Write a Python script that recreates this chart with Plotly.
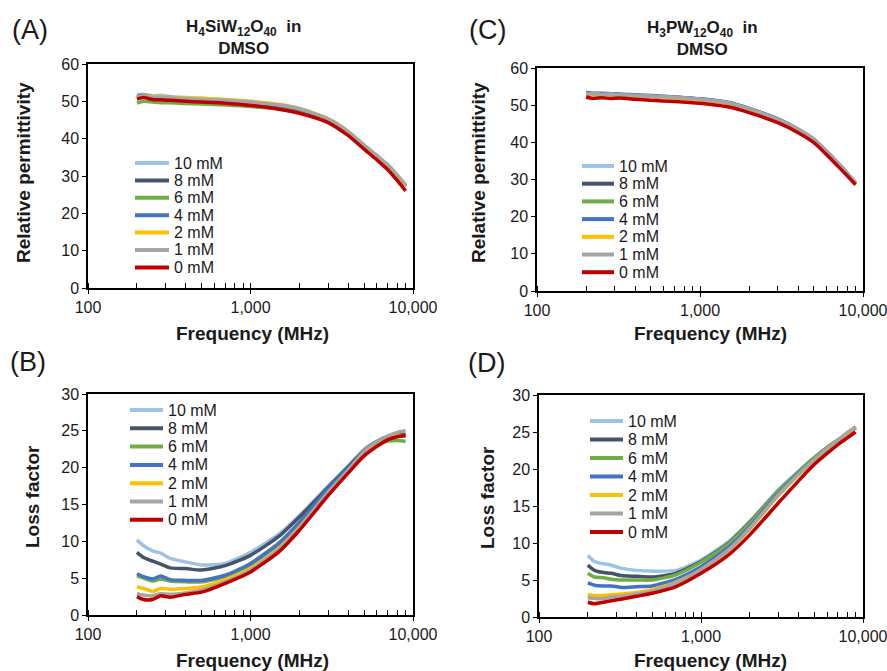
import plotly.graph_objects as go

FREQ = [200, 220, 250, 280, 320, 400, 500, 700, 1000, 1500, 2000, 3000, 4000, 5000, 6000, 7000, 8000, 9000]
SERIES = ["10 mM", "8 mM", "6 mM", "4 mM", "2 mM", "1 mM", "0 mM"]
COLORS = ["#9DC3E6", "#44546A", "#70AD47", "#4472C4", "#FFC000", "#A5A5A5", "#C00000"]

# Panel A: H4SiW12O40 in DMSO, relative permittivity
A_10 = [51.9, 51.8, 51.5, 51.6, 51.3, 51.0, 50.8, 50.4, 49.9, 49.0, 47.9, 45.2, 41.8, 38.2, 35.4, 32.8, 30.1, 27.4]
A_8 = [51.0, 51.4, 51.0, 51.0, 50.8, 50.6, 50.4, 50.1, 49.6, 48.8, 47.7, 45.0, 41.6, 38.0, 35.3, 32.7, 30.0, 27.3]
A_6 = [49.5, 50.0, 49.8, 49.6, 49.6, 49.4, 49.3, 49.0, 48.6, 47.9, 47.0, 44.6, 41.4, 37.9, 35.2, 32.7, 30.0, 27.3]
A_4 = [51.3, 51.6, 51.2, 51.0, 51.0, 50.7, 50.5, 50.2, 49.7, 48.8, 47.7, 45.0, 41.6, 38.0, 35.2, 32.6, 29.9, 27.2]
A_2 = [51.0, 51.4, 51.2, 51.2, 51.0, 50.9, 50.8, 50.5, 50.0, 49.2, 48.1, 45.4, 41.9, 38.2, 35.3, 32.8, 30.0, 27.2]
A_1 = [51.2, 51.3, 51.0, 51.1, 50.9, 50.7, 50.5, 50.3, 49.8, 49.0, 48.0, 45.3, 41.9, 38.3, 35.5, 33.0, 30.3, 27.6]
A_0 = [50.6, 51.0, 50.5, 50.4, 50.3, 50.0, 49.8, 49.5, 48.9, 47.9, 46.8, 44.3, 40.8, 37.2, 34.3, 31.7, 28.8, 26.0]

# Panel B: H4SiW12O40 in DMSO, loss factor
B_10 = [10.2, 9.4, 8.7, 8.4, 7.7, 7.2, 6.8, 7.0, 8.5, 11.0, 13.5, 17.5, 20.3, 22.5, 23.6, 24.3, 24.6, 24.7]
B_8 = [8.5, 7.8, 7.3, 6.9, 6.4, 6.3, 6.1, 6.7, 8.1, 10.7, 13.3, 17.3, 20.1, 22.3, 23.5, 24.2, 24.5, 24.5]
B_6 = [5.3, 5.0, 4.6, 4.9, 4.6, 4.5, 4.5, 5.2, 6.75, 9.6, 12.4, 16.9, 19.7, 21.8, 23.0, 23.6, 23.7, 23.6]
B_4 = [5.6, 5.2, 4.9, 5.3, 4.8, 4.7, 4.7, 5.4, 7.0, 9.8, 12.6, 17.1, 19.9, 22.0, 23.3, 24.0, 24.3, 24.3]
B_2 = [3.8, 3.6, 3.2, 3.6, 3.5, 3.6, 3.8, 4.8, 6.3, 9.1, 11.9, 16.6, 19.6, 21.9, 23.2, 24.0, 24.3, 24.4]
B_1 = [2.9, 2.7, 2.6, 2.9, 2.8, 3.0, 3.4, 4.5, 6.1, 9.0, 11.8, 16.6, 19.7, 22.2, 23.5, 24.3, 24.8, 25.0]
B_0 = [2.5, 2.1, 2.1, 2.6, 2.4, 2.8, 3.1, 4.3, 5.85, 8.6, 11.5, 16.2, 19.3, 21.6, 22.9, 23.8, 24.2, 24.4]

# Panel C: H3PW12O40 in DMSO, relative permittivity
C_10 = [53.3, 53.2, 53.1, 53.1, 52.9, 52.7, 52.5, 52.2, 51.7, 50.7, 49.1, 46.3, 43.5, 40.8, 37.5, 34.5, 31.7, 29.1]
C_8 = [53.2, 53.1, 53.0, 53.0, 52.8, 52.6, 52.4, 52.1, 51.6, 50.6, 49.0, 46.2, 43.4, 40.7, 37.4, 34.4, 31.6, 29.0]
C_6 = [53.0, 52.9, 52.9, 52.8, 52.7, 52.5, 52.3, 52.0, 51.5, 50.5, 48.9, 46.1, 43.4, 40.7, 37.4, 34.4, 31.6, 29.0]
C_4 = [53.4, 53.2, 53.2, 53.1, 53.0, 52.8, 52.6, 52.2, 51.7, 50.7, 49.1, 46.3, 43.5, 40.8, 37.5, 34.4, 31.6, 29.0]
C_2 = [52.9, 53.0, 52.8, 52.8, 52.7, 52.5, 52.3, 52.0, 51.5, 50.5, 48.9, 46.1, 43.4, 40.6, 37.3, 34.3, 31.5, 29.0]
C_1 = [53.0, 53.1, 52.9, 53.0, 52.8, 52.6, 52.4, 52.1, 51.6, 50.6, 49.0, 46.2, 43.5, 40.8, 37.5, 34.5, 31.7, 29.1]
C_0 = [52.2, 51.8, 52.0, 51.8, 51.9, 51.6, 51.3, 51.0, 50.5, 49.5, 48.0, 45.3, 42.6, 39.9, 36.6, 33.6, 31.0, 28.6]

# Panel D: H3PW12O40 in DMSO, loss factor
D_10 = [8.3, 7.5, 7.2, 7.0, 6.6, 6.3, 6.2, 6.3, 7.7, 10.3, 12.9, 17.2, 19.7, 21.5, 22.9, 23.9, 24.9, 25.7]
D_8 = [7.0, 6.3, 6.0, 5.9, 5.6, 5.5, 5.4, 5.9, 7.5, 10.1, 12.8, 17.0, 19.6, 21.5, 22.9, 23.9, 24.8, 25.6]
D_6 = [5.9, 5.4, 5.3, 5.1, 5.0, 5.0, 5.0, 5.7, 7.4, 10.0, 12.7, 17.0, 19.6, 21.5, 22.9, 23.9, 24.8, 25.6]
D_4 = [4.6, 4.3, 4.2, 4.2, 4.0, 4.1, 4.2, 5.1, 6.8, 9.5, 12.2, 16.7, 19.4, 21.2, 22.7, 23.8, 24.8, 25.6]
D_2 = [3.0, 2.9, 2.9, 3.0, 3.1, 3.3, 3.7, 4.7, 6.4, 9.1, 11.9, 16.4, 19.2, 21.1, 22.7, 23.8, 24.8, 25.7]
D_1 = [2.6, 2.5, 2.5, 2.7, 2.8, 3.1, 3.5, 4.6, 6.4, 9.2, 12.0, 16.5, 19.3, 21.2, 22.8, 23.9, 24.9, 25.7]
D_0 = [2.0, 1.8, 2.0, 2.2, 2.4, 2.8, 3.2, 4.1, 5.9, 8.5, 11.1, 15.4, 18.4, 20.6, 22.1, 23.3, 24.2, 25.0]

X_TICKVALS = [100, 1000, 10000]
X_TICKTEXT = ["100", "1,000", "10,000"]

W, H = 887, 671
FONT = "Liberation Sans, Arial, sans-serif"
TXT = "#1a1a1a"

panels = [
    # data, xaxis, yaxis, x-domain px, y-domain px (top,bottom), ymax, dtick, legend (line x0, text x, first y, step)
    ([A_10, A_8, A_6, A_4, A_2, A_1, A_0], "x", "y", (88, 413), (64, 288), 60, 10, (135, 172, 163, 17.4)),
    ([B_10, B_8, B_6, B_4, B_2, B_1, B_0], "x2", "y2", (88, 413), (394, 615), 30, 5, (130, 166, 410, 18.3)),
    ([C_10, C_8, C_6, C_4, C_2, C_1, C_0], "x3", "y3", (537, 863), (68, 291), 60, 10, (582, 617, 166, 17.7)),
    ([D_10, D_8, D_6, D_4, D_2, D_1, D_0], "x4", "y4", (539, 863), (395, 617), 30, 5, (590, 626, 421, 18.5)),
]

fig = go.Figure()
layout = dict(
    width=W, height=H, margin=dict(l=0, r=0, t=0, b=0, autoexpand=False),
    paper_bgcolor="white", plot_bgcolor="white",
    font=dict(family=FONT, color=TXT, size=15),
    showlegend=False,
)

shapes = []
ann = []

def txt(x, y, text, size, bold=False, angle=0, xanchor="center", yanchor="middle"):
    ann.append(dict(
        x=x / W, y=1 - y / H, xref="paper", yref="paper",
        text=(f"<b>{text}</b>" if bold else text),
        showarrow=False, font=dict(size=size, family=FONT, color=TXT),
        textangle=angle, xanchor=xanchor, yanchor=yanchor,
    ))

for data, xa, ya, (x0, x1), (yt, yb), ymax, dt, (lx, tx, ly, step) in panels:
    for name, col, vals in zip(SERIES, COLORS, data):
        fig.add_trace(go.Scatter(
            x=FREQ, y=vals, name=name, mode="lines",
            line=dict(color=col, width=3.5, shape="spline", smoothing=0.6),
            xaxis=xa, yaxis=ya,
        ))
    xk = "xaxis" + xa[1:]
    yk = "yaxis" + ya[1:]
    layout[xk] = dict(
        type="log", range=[2, 4], domain=[x0 / W, x1 / W], anchor=ya, automargin=False,
        tickvals=X_TICKVALS, ticktext=X_TICKTEXT, ticklabeloverflow="allow",
        showline=True, linecolor="black", linewidth=1.5, mirror=True,
        ticks="outside", ticklen=4, tickcolor="black",
        minor=dict(ticks="inside", ticklen=5, tickcolor="black", dtick="D1", showgrid=False),
        showgrid=False, zeroline=False,
        tickfont=dict(size=16, family=FONT, color=TXT),
    )
    layout[yk] = dict(
        range=[0, ymax], dtick=dt, domain=[1 - yb / H, 1 - yt / H], anchor=xa, automargin=False,
        showline=True, linecolor="black", linewidth=1.5, mirror=True,
        ticks="outside", ticklen=4, tickcolor="black",
        showgrid=False, zeroline=False,
        tickfont=dict(size=16, family=FONT, color=TXT),
    )
    # hand-built legend (entries only, no data)
    for i, (name, col) in enumerate(zip(SERIES, COLORS)):
        yy = ly + i * step
        shapes.append(dict(
            type="line", xref="paper", yref="paper",
            x0=lx / W, x1=(tx - 3) / W, y0=1 - yy / H, y1=1 - yy / H,
            line=dict(color=col, width=4),
        ))
        txt(tx, yy, name, 16, xanchor="left")

fig.update_layout(**layout)

# Panel labels
txt(10, 30, "(A)", 27, xanchor="left")
txt(8, 362, "(B)", 27, xanchor="left")
txt(467, 30, "(C)", 27, xanchor="left")
txt(466, 363, "(D)", 27, xanchor="left")

# Titles
txt(243, 37, "H<sub>4</sub>SiW<sub>12</sub>O<sub>40</sub>  in<br>DMSO", 17, bold=True)
txt(702, 39, "H<sub>3</sub>PW<sub>12</sub>O<sub>40</sub>  in<br>DMSO", 17, bold=True)

# Axis titles
txt(253, 333, "Frequency (MHz)", 19, bold=True)
txt(710, 333, "Frequency (MHz)", 19, bold=True)
txt(253, 660, "Frequency (MHz)", 19, bold=True)
txt(710, 660, "Frequency (MHz)", 19, bold=True)
txt(23, 173, "Relative permittivity", 19, bold=True, angle=-90)
txt(478, 173, "Relative permittivity", 19, bold=True, angle=-90)
txt(32, 497, "Loss factor", 19, bold=True, angle=-90)
txt(487, 497, "Loss factor", 19, bold=True, angle=-90)

fig.update_layout(annotations=ann, shapes=shapes)
fig.write_html(
    "out.html",
    config={"displayModeBar": False},
    post_script="document.body.style.margin='0';document.body.style.overflow='hidden';",
)
